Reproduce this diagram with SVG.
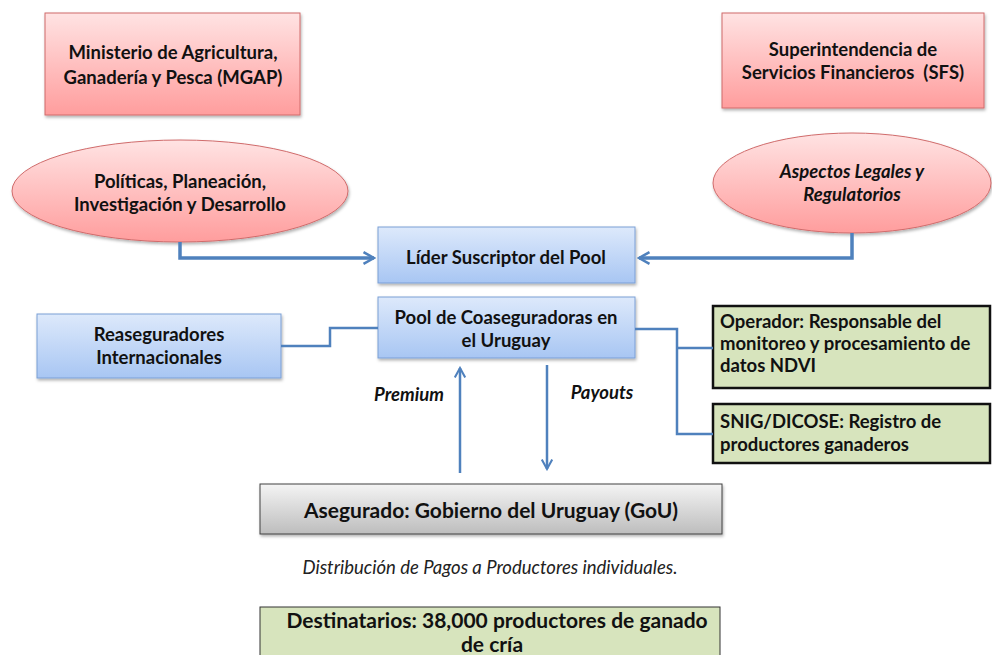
<svg xmlns="http://www.w3.org/2000/svg" width="992" height="655" viewBox="0 0 992 655">
<defs>
<linearGradient id="gRed" x1="0" y1="0" x2="0" y2="1"><stop offset="0" stop-color="#ffe3e3"/><stop offset="1" stop-color="#ff9d9d"/></linearGradient>
<linearGradient id="gBlue" x1="0" y1="0" x2="0" y2="1"><stop offset="0" stop-color="#dde9fb"/><stop offset="1" stop-color="#a8c6f3"/></linearGradient>
<linearGradient id="gGray" x1="0" y1="0" x2="0" y2="1"><stop offset="0" stop-color="#f4f4f4"/><stop offset="1" stop-color="#bdbdbd"/></linearGradient>
<filter id="sh" x="-10%" y="-10%" width="120%" height="130%"><feDropShadow dx="1" dy="2" stdDeviation="1.5" flood-color="#000" flood-opacity="0.3"/></filter>
<marker id="ah" viewBox="0 0 12 12" refX="10" refY="6" markerWidth="4" markerHeight="4" orient="auto" markerUnits="strokeWidth"><path d="M1,1 L10,6 L1,11" fill="none" stroke="#4f81bd" stroke-width="2.2"/></marker>
<marker id="ah2" viewBox="0 0 12 12" refX="10" refY="6" markerWidth="5" markerHeight="5" orient="auto" markerUnits="strokeWidth"><path d="M1,1 L10,6 L1,11" fill="none" stroke="#4f81bd" stroke-width="2"/></marker>
</defs>
<style>
text{font-family:Lato,"Open Sans","Liberation Sans",sans-serif;font-weight:bold;fill:#111;text-anchor:middle}
.red{fill:url(#gRed);stroke:#d06b6b;stroke-width:1;filter:url(#sh)}
.blue{fill:url(#gBlue);stroke:#7a9fd6;stroke-width:1;filter:url(#sh)}
.green{fill:#d7e4bd;stroke:#111;stroke-width:2.5}
.gray{fill:url(#gGray);stroke:#404040;stroke-width:1;filter:url(#sh)}
.f17{font-size:18.5px}
.f20{font-size:21px}
.it{font-style:italic}
.lft{text-anchor:start}
.c1{fill:none;stroke:#4f81bd;stroke-width:3.5}
.c2{fill:none;stroke:#4f81bd;stroke-width:2.5}
</style>
<g id="mgap"><rect class="red" x="45" y="13" width="255" height="102"/><text class="f17" x="173" y="59">Ministerio de Agricultura,</text><text class="f17" x="173" y="84">Ganadería y Pesca (MGAP)</text></g>
<g id="sfs"><rect class="red" x="722" y="13" width="262" height="95"/><text class="f17" x="853" y="56">Superintendencia de</text><text class="f17" x="853" y="79" style="white-space:pre">Servicios Financieros  (SFS)</text></g>
<g id="politicas"><ellipse class="red" cx="180" cy="191" rx="168" ry="51"/><text class="f17" x="180" y="188">Políticas, Planeación,</text><text class="f17" x="180" y="211">Investigación y Desarrollo</text></g>
<g id="aspectos"><ellipse class="red" cx="852" cy="183" rx="139" ry="50"/><text class="f17 it" x="852" y="178">Aspectos Legales y</text><text class="f17 it" x="852" y="201">Regulatorios</text></g>
<g id="lider"><rect class="blue" x="378" y="227" width="257" height="56"/><text class="f17" x="506" y="264">Líder Suscriptor del Pool</text></g>
<g id="pool"><rect class="blue" x="378" y="297" width="257" height="61"/><text class="f17" x="506" y="324">Pool de Coaseguradoras en</text><text class="f17" x="506" y="347">el Uruguay</text></g>
<g id="reaseguradores"><rect class="blue" x="37" y="314" width="244" height="64"/><text class="f17" x="159" y="341">Reaseguradores</text><text class="f17" x="159" y="364">Internacionales</text></g>
<g id="operador"><rect class="green" x="713" y="306" width="277" height="82"/><text class="f17 lft" x="720" y="328">Operador: Responsable del</text><text class="f17 lft" x="720" y="350">monitoreo y procesamiento de</text><text class="f17 lft" x="720" y="372">datos NDVI</text></g>
<g id="snig"><rect class="green" x="713" y="404" width="277" height="59"/><text class="f17 lft" x="720" y="428">SNIG/DICOSE: Registro de</text><text class="f17 lft" x="720" y="451">productores ganaderos</text></g>
<g id="gou"><rect class="gray" x="260" y="484" width="462" height="50"/><text class="f20" x="491" y="518">Asegurado: Gobierno del Uruguay (GoU)</text></g>
<g id="nota"><text x="490" y="574" style="font-size:18.5px;font-weight:normal;font-style:italic;fill:#222">Distribución de Pagos a Productores individuales.</text></g>
<g id="destinatarios"><rect class="green" x="260" y="607" width="460" height="60" style="stroke-width:1;stroke:#333"/><text class="f20" x="497" y="628">Destinatarios: 38,000 productores de ganado</text><text class="f20" x="492" y="652">de cría</text></g>
<g id="connectors">
<path class="c1" d="M180,242 V258 H374" marker-end="url(#ah)"/>
<path class="c1" d="M852,233 V258 H639" marker-end="url(#ah)"/>
<path class="c2" d="M281,346 H330 V328 H378"/>
<path class="c2" d="M635,329 H677 V434 H713 M677,348 H713"/>
<path class="c2" d="M460,473 V368" marker-end="url(#ah2)"/>
<path class="c2" d="M547,365 V469" marker-end="url(#ah2)"/>
<text class="f17 it" x="409" y="401">Premium</text>
<text class="f17 it" x="602" y="399">Payouts</text>
</g>
</svg>
